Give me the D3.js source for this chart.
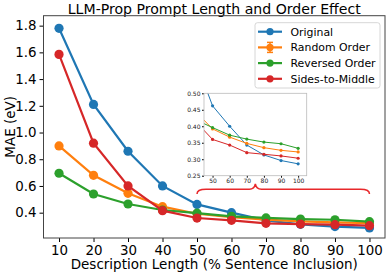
<!DOCTYPE html>
<html>
<head>
<meta charset="utf-8">
<script src="https://cdn.jsdelivr.net/npm/d3@7"></script>
<style>
  body { margin: 0; background: #fff; }
  text { font-family: "DejaVu Sans", sans-serif; }
</style>
</head>
<body>
<svg id="chart"></svg>
<script>
// valeurs
var longueurs = [10, 20, 30, 40, 50, 60, 70, 80, 90, 100]
var original = [1.78, 1.21, 0.86, 0.60, 0.462, 0.40, 0.343, 0.313, 0.296, 0.286]
var aleatoire = [0.90, 0.68, 0.545, 0.445, 0.392, 0.367, 0.348, 0.335, 0.327, 0.322]
var aleatoireErr = [0.01, 0.008, 0.006, 0.005, 0.004, 0.003, 0.003, 0.003, 0.002, 0.002]
var inverse = [0.695, 0.54, 0.465, 0.42, 0.396, 0.373, 0.361, 0.352, 0.347, 0.333]
var cotes = [1.585, 0.92, 0.60, 0.415, 0.36, 0.343, 0.32, 0.315, 0.31, 0.303]

var nomsSeries = ["Original", "Random Order", "Reversed Order", "Sides-to-Middle"]
var couleurs = ["#1f77b4", "#ff7f0e", "#2ca02c", "#d62728"]
var ticksY = [0.4, 0.6, 0.8, 1.0, 1.2, 1.4, 1.6, 1.8]
var ticksInsetX = [50, 60, 70, 80, 90, 100]
var ticksInsetY = [0.25, 0.30, 0.35, 0.40, 0.45, 0.50]

var series = [original, aleatoire, inverse, cotes]

var canevas = d3.select("#chart")
  .attr("width", 387)
  .attr("height", 274)

var marge = {gauche: 43.5, droite: 385, haut: 15.7, bas: 238}

var x = d3.scaleLinear().domain([5.5, 104.5]).range([marge.gauche, marge.droite])
var y = d3.scaleLinear().domain([0.2105, 1.8745]).range([marge.bas, marge.haut])

// titre
canevas.append("text")
  .text("LLM-Prop Prompt Length and Order Effect")
  .attr("x", (marge.gauche + marge.droite) / 2)
  .attr("y", 13.5)
  .attr("text-anchor", "middle")
  .style("font-size", "14.1px")

// axes
canevas.append("g")
  .attr("transform", "translate(0," + marge.bas + ")")
  .call(d3.axisBottom(x).tickValues(longueurs).tickSize(4).tickPadding(3))
  .call(g => g.selectAll("text").style("font-size", "13.4px").attr("fill", "#000"))

canevas.append("g")
  .attr("transform", "translate(" + marge.gauche + ",0)")
  .call(d3.axisLeft(y).tickValues(ticksY).tickFormat(d3.format(".1f")).tickSize(4).tickPadding(3))
  .call(g => g.selectAll("text").style("font-size", "13.4px").attr("fill", "#000"))

canevas.selectAll(".domain").remove()

canevas.append("rect")
  .attr("x", marge.gauche)
  .attr("y", marge.haut)
  .attr("width", marge.droite - marge.gauche)
  .attr("height", marge.bas - marge.haut)
  .attr("style", "fill:none;stroke:#444;stroke-width:1")

canevas.append("text")
  .text("Description Length (% Sentence Inclusion)")
  .attr("x", (marge.gauche + marge.droite) / 2)
  .attr("y", 269)
  .attr("text-anchor", "middle")
  .style("font-size", "13.5px")

canevas.append("text")
  .text("MAE (eV)")
  .attr("transform", "translate(15," + ((marge.haut + marge.bas) / 2) + ") rotate(-90)")
  .attr("text-anchor", "middle")
  .style("font-size", "13.5px")

// courbes principales
var ligne = d3.line()
  .x(function(d, i){ return x(longueurs[i]) })
  .y(function(d){ return y(d) })

for (let s = 0; s < series.length; s++){
  canevas.append("path")
    .attr("d", ligne(series[s]))
    .attr("style", "fill:none;stroke-width:2.2;stroke:" + couleurs[s])
  if (s == 1){
    for (let i = 0; i < longueurs.length; i++){
      canevas.append("line")
        .attr("x1", x(longueurs[i])).attr("x2", x(longueurs[i]))
        .attr("y1", y(aleatoire[i] - aleatoireErr[i])).attr("y2", y(aleatoire[i] + aleatoireErr[i]))
        .attr("style", "stroke-width:1.5;stroke:" + couleurs[s])
    }
  }
  canevas.selectAll(".pt" + s)
    .data(series[s])
    .enter()
    .append("circle")
    .attr("cx", function(d, i){ return x(longueurs[i]) })
    .attr("cy", function(d){ return y(d) })
    .attr("r", 4.6)
    .attr("fill", couleurs[s])
}

// accolade rouge sous l'encart
var encart = {gauche: 204, droite: 306.7, haut: 93.3, bas: 175.7}
var xg = x(50), xd = x(100), xm = (encart.gauche + encart.droite) / 2
var yb = y(0.54), yh = y(0.575), yp = y(0.615)
var accolade = "M " + xg + " " + yb +
  " Q " + xg + " " + yh + " " + (xg + 9) + " " + yh +
  " L " + (xm - 6) + " " + yh +
  " Q " + (xm - 1) + " " + yh + " " + xm + " " + yp +
  " Q " + (xm + 1) + " " + yh + " " + (xm + 6) + " " + yh +
  " L " + (xd - 9) + " " + yh +
  " Q " + xd + " " + yh + " " + xd + " " + yb
canevas.append("path")
  .attr("d", accolade)
  .attr("style", "fill:none;stroke:#e8282b;stroke-width:1.5")

// encart
var xi = d3.scaleLinear().domain([45, 105]).range([encart.gauche, encart.droite])
var yi = d3.scaleLinear().domain([0.25, 0.50]).range([encart.bas, encart.haut])

var gi = canevas.append("g")
gi.append("rect")
  .attr("x", encart.gauche)
  .attr("y", encart.haut)
  .attr("width", encart.droite - encart.gauche)
  .attr("height", encart.bas - encart.haut)
  .attr("style", "fill:#fff;stroke:none")

gi.append("defs").append("clipPath").attr("id", "clipEncart")
  .append("rect")
  .attr("x", encart.gauche)
  .attr("y", encart.haut)
  .attr("width", encart.droite - encart.gauche)
  .attr("height", encart.bas - encart.haut)

var ligneInset = d3.line()
  .x(function(d){ return xi(d[0]) })
  .y(function(d){ return yi(d[1]) })

var zone = gi.append("g").attr("clip-path", "url(#clipEncart)")
for (let s = 0; s < series.length; s++){
  var pts = longueurs.map(function(l, i){ return [l, series[s][i]] })
  zone.append("path")
    .attr("d", ligneInset(pts))
    .attr("style", "fill:none;stroke-width:1;stroke:" + couleurs[s])
  zone.selectAll(".pi" + s)
    .data(pts.filter(function(p){ return p[0] >= 50 }))
    .enter()
    .append("circle")
    .attr("cx", function(d){ return xi(d[0]) })
    .attr("cy", function(d){ return yi(d[1]) })
    .attr("r", 1.6)
    .attr("fill", couleurs[s])
}

gi.append("g")
  .attr("transform", "translate(0," + encart.bas + ")")
  .call(d3.axisBottom(xi).tickValues(ticksInsetX).tickSize(2).tickPadding(1.5))
  .call(g => g.selectAll("text").style("font-size", "6px").attr("fill", "#222"))
  .call(g => g.select(".domain").remove())

gi.append("g")
  .attr("transform", "translate(" + encart.gauche + ",0)")
  .call(d3.axisLeft(yi).tickValues(ticksInsetY).tickFormat(d3.format(".2f")).tickSize(2).tickPadding(1.5))
  .call(g => g.selectAll("text").style("font-size", "6px").attr("fill", "#222"))
  .call(g => g.select(".domain").remove())

gi.append("rect")
  .attr("x", encart.gauche)
  .attr("y", encart.haut)
  .attr("width", encart.droite - encart.gauche)
  .attr("height", encart.bas - encart.haut)
  .attr("style", "fill:none;stroke:#bbb;stroke-width:0.8")

// légende
var legende = canevas.append("g")
legende.append("rect")
  .attr("x", 255)
  .attr("y", 22.7)
  .attr("width", 125)
  .attr("height", 65.3)
  .attr("rx", 2.5)
  .attr("style", "fill:#fff;stroke:#ccc;stroke-width:0.8")

for (let s = 0; s < nomsSeries.length; s++){
  var ly = 31.7 + s * 15.7
  legende.append("line")
    .attr("x1", 258).attr("x2", 282)
    .attr("y1", ly).attr("y2", ly)
    .attr("style", "stroke-width:2.2;stroke:" + couleurs[s])
  if (s == 1){
    legende.append("line")
      .attr("x1", 270).attr("x2", 270)
      .attr("y1", ly - 5).attr("y2", ly + 5)
      .attr("style", "stroke-width:1.5;stroke:" + couleurs[s])
    legende.selectAll(".cap")
      .data([ly - 5, ly + 5])
      .enter()
      .append("line")
      .attr("x1", 267).attr("x2", 273)
      .attr("y1", function(d){ return d }).attr("y2", function(d){ return d })
      .attr("style", "stroke-width:1.5;stroke:" + couleurs[s])
  }
  legende.append("circle")
    .attr("cx", 270).attr("cy", ly).attr("r", 3.6)
    .attr("fill", couleurs[s])
  legende.append("text")
    .text(nomsSeries[s])
    .attr("x", 290.5)
    .attr("y", ly + 4)
    .style("font-size", "10.9px")
}
</script>
</body>
</html>
